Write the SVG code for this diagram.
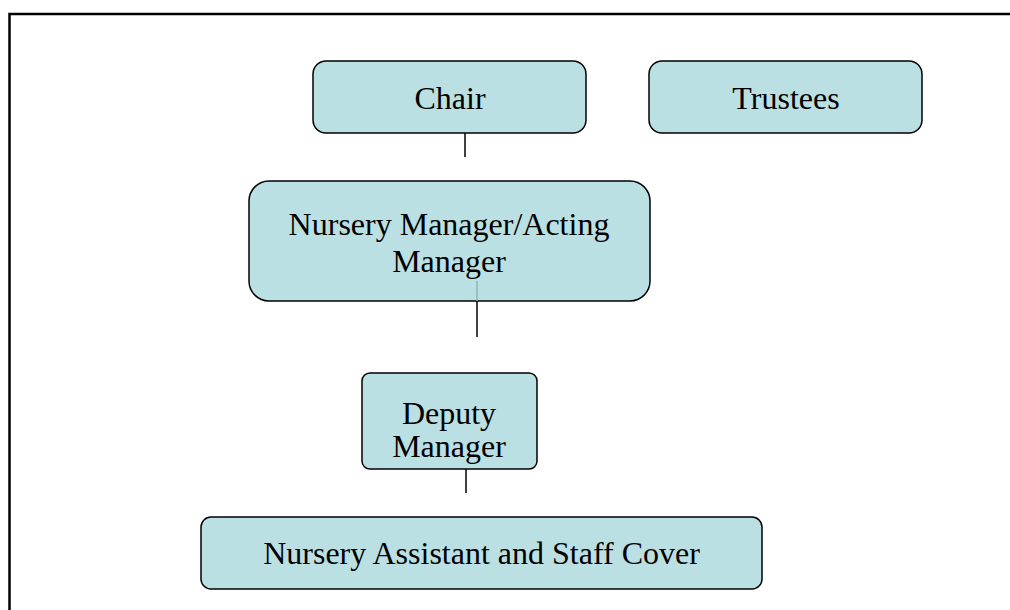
<svg xmlns="http://www.w3.org/2000/svg" width="1010" height="610" viewBox="0 0 1010 610">
<style>
.box{fill:#bbe0e3;stroke:#000;stroke-width:1.5}
.t{font-family:"Liberation Serif","Times New Roman",serif;font-size:32px;fill:#000;text-anchor:middle}
.c{stroke:#000;stroke-width:1.5;fill:none}
</style>
<rect x="0" y="0" width="1010" height="610" fill="#fff"/>
<path d="M9.5 610 V14 H1010" fill="none" stroke="#000" stroke-width="2.5"/>
<g id="connectors">
<line class="c" x1="465" y1="133" x2="465" y2="157"/>
<line class="c" x1="477" y1="301" x2="477" y2="337"/>
<line class="c" x1="466" y1="469" x2="466" y2="493"/>
</g>
<g id="chair">
<rect class="box" x="313" y="61" width="273" height="72" rx="13"/>
<text class="t" x="450" y="109">Chair</text>
</g>
<g id="trustees">
<rect class="box" x="649" y="61" width="273" height="72" rx="13"/>
<text class="t" x="786" y="109">Trustees</text>
</g>
<g id="manager">
<rect class="box" x="249" y="181" width="401" height="120" rx="20"/>
<text class="t" x="449" y="235">Nursery Manager/Acting</text>
<text class="t" x="449" y="272">Manager</text>
<line x1="477" y1="281" x2="477" y2="301" stroke="#8fb3b7" stroke-width="1.5"/>
</g>
<g id="deputy">
<clipPath id="dc"><rect x="362" y="373" width="175" height="95"/></clipPath>
<rect class="box" x="362" y="373" width="175" height="96" rx="8"/>
<g clip-path="url(#dc)">
<text class="t" x="449" y="424">Deputy</text>
<text class="t" x="449" y="457">Manager</text>
</g>
</g>
<g id="assistant">
<rect class="box" x="201" y="517" width="561" height="72" rx="10"/>
<text class="t" x="481.5" y="564">Nursery Assistant and Staff Cover</text>
</g>
</svg>
